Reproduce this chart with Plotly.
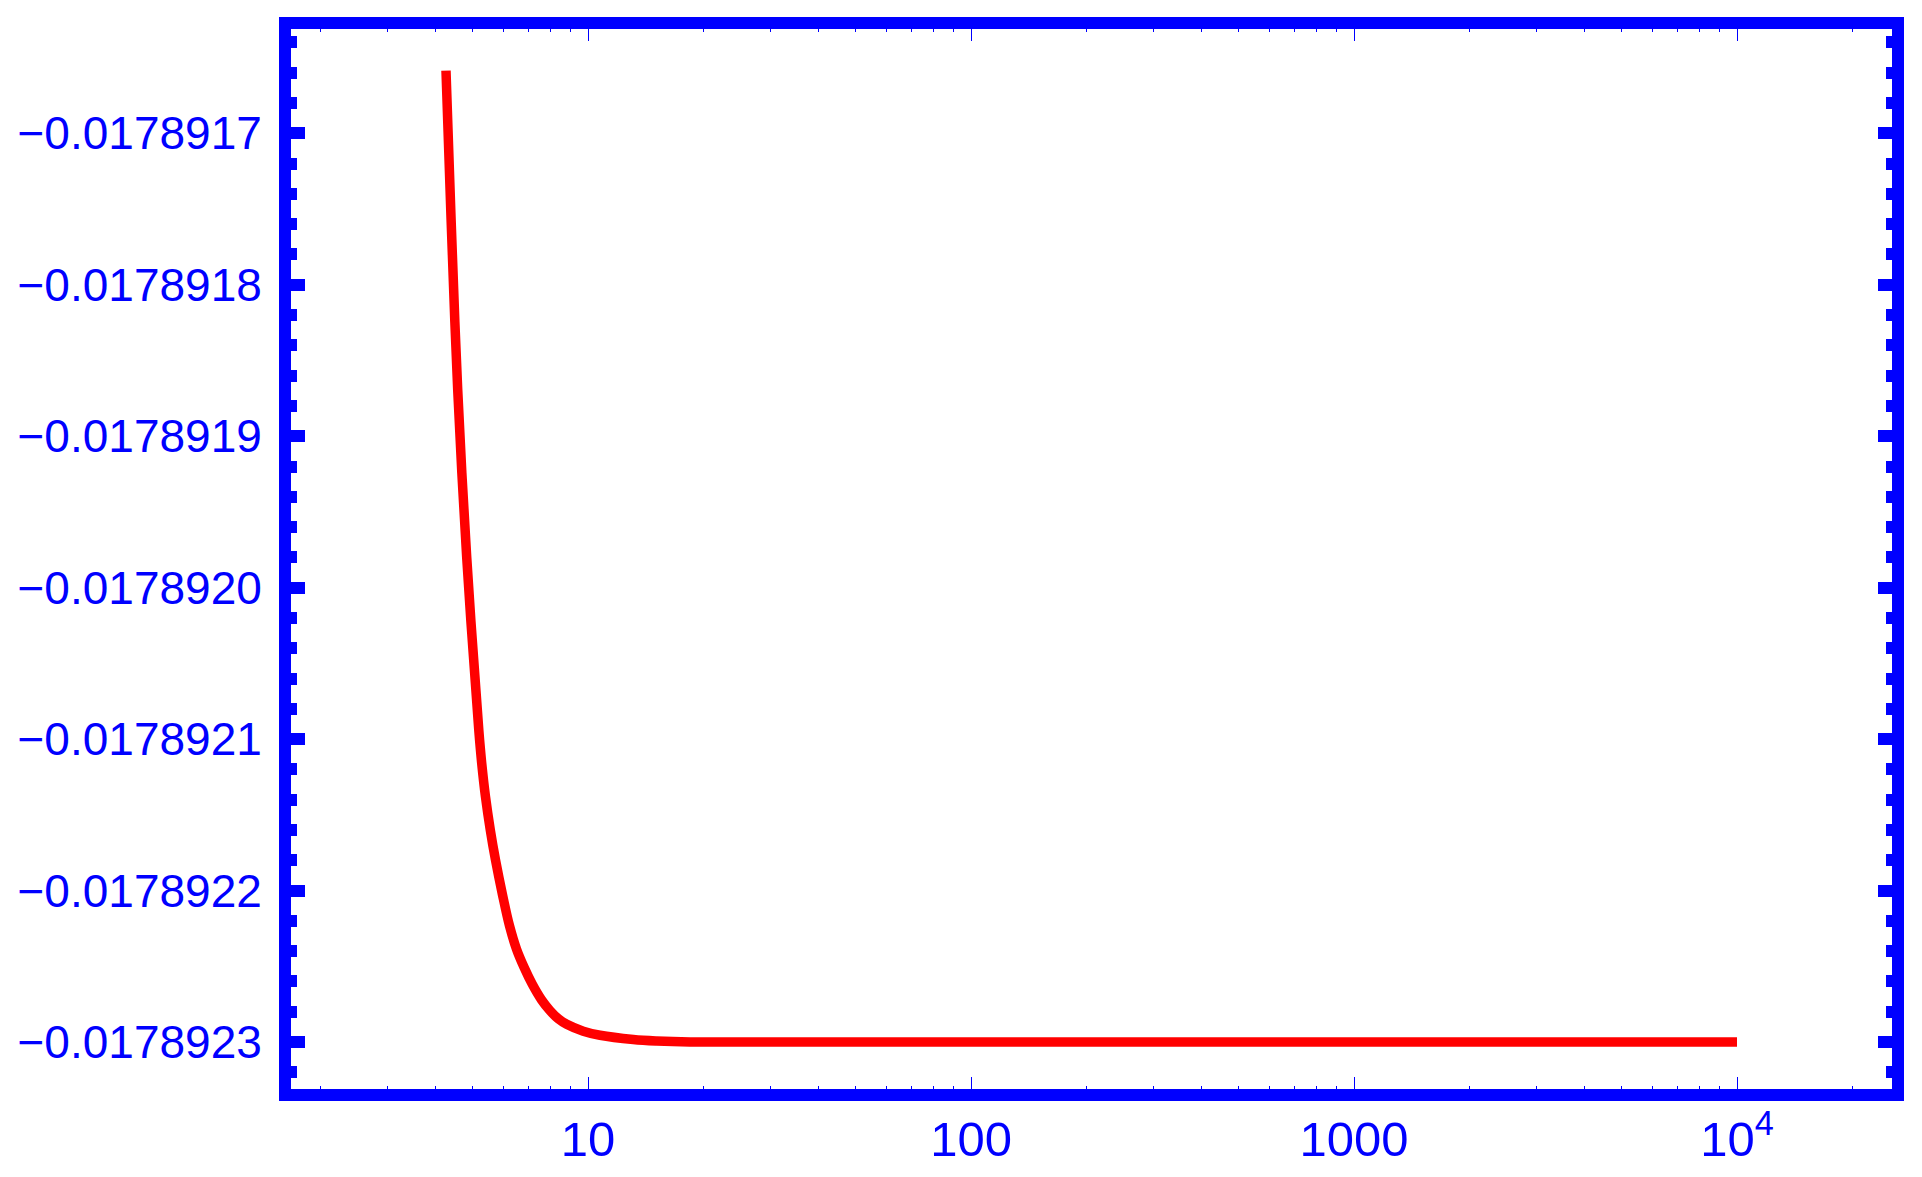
import plotly.graph_objects as go

# Curve samples (x on log axis, y values)
x_vals = [4.258, 4.388, 4.569, 4.822, 5.186, 5.277, 5.400, 5.558, 5.734, 5.980,
          6.238, 6.506, 6.813, 7.149, 7.560, 7.957, 8.365, 8.799, 9.721, 10.748,
          13.13, 15.11, 18.46, 100.0, 1000.0, 10000.0]
y_vals = [-0.01789165865, -0.01789175509, -0.01789186935, -0.01789197966, -0.01789209392,
          -0.01789211572, -0.01789213818, -0.01789215997, -0.01789217979, -0.01789220270,
          -0.01789222330, -0.01789223865, -0.01789225085, -0.01789226175, -0.01789227210,
          -0.01789227930, -0.01789228470, -0.01789228830, -0.01789229285, -0.01789229557,
          -0.01789229835, -0.01789229934, -0.01789230000, -0.01789230000, -0.01789230000,
          -0.01789230000]

# Tick labels
x_tickvals = [10, 100, 1000, 10000]
x_ticktext = ["10", "100", "1000", "10<sup>4</sup>"]
y_tickvals = [-0.0178917, -0.0178918, -0.0178919, -0.0178920, -0.0178921, -0.0178922, -0.0178923]
y_ticktext = ["\u22120.0178917", "\u22120.0178918", "\u22120.0178919", "\u22120.0178920",
              "\u22120.0178921", "\u22120.0178922", "\u22120.0178923"]

BLUE = "#0000FF"
RED = "#FF0000"
FAMILY = "Liberation Sans, Arial, sans-serif"

fig = go.Figure()
fig.add_trace(go.Scatter(
    x=x_vals, y=y_vals, mode="lines",
    line=dict(color=RED, width=9.5, shape="spline", smoothing=1.0),
    hoverinfo="skip", showlegend=False,
))

# page body keeps its default 8px margin, so the figure is 8px smaller
fig.update_layout(
    width=1914, height=1169,
    margin=dict(l=283, r=30, t=21, b=88, pad=0),
    paper_bgcolor="white", plot_bgcolor="white",
    showlegend=False,
)

fig.update_xaxes(
    type="log", range=[0.22454, 4.40470], automargin=False,
    tickmode="array", tickvals=x_tickvals, ticktext=x_ticktext,
    ticks="inside", ticklen=12, tickwidth=1.2, tickcolor=BLUE,
    showline=True, linewidth=12, linecolor=BLUE, mirror="allticks",
    showgrid=False, zeroline=False, ticklabelstandoff=-4,
    tickfont=dict(family=FAMILY, size=49, color=BLUE),
    minor=dict(ticks="inside", ticklen=3, tickwidth=1.2, tickcolor=BLUE,
               dtick="D1", showgrid=False),
)

fig.update_yaxes(
    range=[-0.01789233104, -0.01789163111], automargin=False,
    tickmode="array", tickvals=y_tickvals, ticktext=y_ticktext,
    ticks="inside", ticklen=14, tickwidth=12, tickcolor=BLUE,
    showline=True, linewidth=12, linecolor=BLUE, mirror="allticks",
    showgrid=False, zeroline=False, ticklabelstandoff=8,
    tickfont=dict(family=FAMILY, size=46, color=BLUE),
    minor=dict(ticks="inside", ticklen=6, tickwidth=12, tickcolor=BLUE,
               tick0=-0.0178923, dtick=2e-8, showgrid=False),
)

fig.write_html("out.html")
